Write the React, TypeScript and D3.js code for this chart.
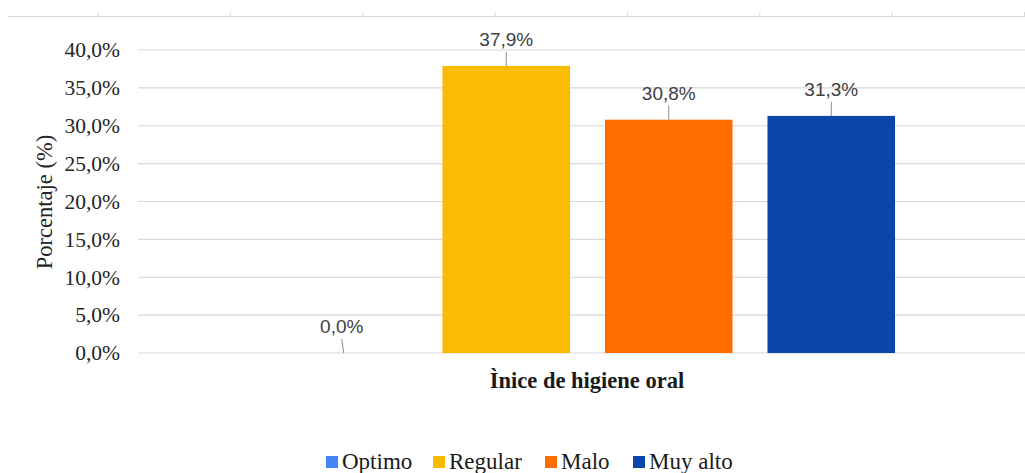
import { useMemo } from "react";
import * as d3 from "d3";

// chart data
const categories = ["Optimo", "Regular", "Malo", "Muy alto"];
const values = [0.0, 37.9, 30.8, 31.3];
const colors = ["#4285f4", "#f9bc02", "#ff6d01", "#0b47ab"];
const yTicks = [0, 5, 10, 15, 20, 25, 30, 35, 40];
const topTicks = [0, 1, 2, 3, 4, 5, 6, 7];

const W = 1025;
const H = 473;
const fmt = (v: number) => v.toFixed(1).replace(".", ",") + "%";
const serif = "'Liberation Serif', 'Times New Roman', serif";
const sans = "'Liberation Sans', Arial, sans-serif";

export default function App() {
  const y = useMemo(() => d3.scaleLinear().domain([0, 40]).range([353, 50]), []);
  const x = useMemo(
    () =>
      d3.scaleBand<string>()
        .domain(categories)
        .range([262.5, 912.5])
        .paddingInner(0.215)
        .paddingOuter(0.1075),
    []
  );
  const top = d3.scaleLinear().domain([0, 7]).range([98, 1024.5]);

  // legend layout (x start of each item)
  const legendX = [326, 433, 545, 633];

  return (
    <svg
      width={W}
      height={H}
      style={{ position: "absolute", left: 0, top: 0, background: "#fff" }}
    >
      {/* cropped top axis of previous chart */}
      <line x1={8} x2={W} y1={16.5} y2={16.5} stroke="#d9d9d9" strokeWidth={1.2} />
      {topTicks.map((t) => (
        <line key={t} x1={top(t)} x2={top(t)} y1={12} y2={16} stroke="#d9d9d9" />
      ))}

      {/* gridlines + y labels */}
      {yTicks.map((t) => (
        <g key={t}>
          <line x1={138} x2={W} y1={y(t)} y2={y(t)} stroke="#d9d9d9" strokeWidth={1.2} />
          <text
            x={120}
            y={y(t)}
            dy="0.34em"
            textAnchor="end"
            fontFamily={serif}
            fontSize={21.5}
            fill="#262626"
          >
            {fmt(t)}
          </text>
        </g>
      ))}

      {/* bars */}
      {categories.map((c, i) => (
        <rect
          key={c}
          x={x(c)}
          y={y(values[i])}
          width={x.bandwidth()}
          height={y(0) - y(values[i])}
          fill={colors[i]}
        />
      ))}

      {/* data labels with leader lines */}
      {categories.map((c, i) => {
        const cx = (x(c) as number) + x.bandwidth() / 2;
        const barTop = y(values[i]);
        const base = barTop - 20;
        const lx = i === 0 ? cx - 2 : cx;
        return (
          <g key={c}>
            {barTop - (base + 5) > 6 && (
              <line
                x1={lx}
                x2={cx}
                y1={base + 6}
                y2={barTop}
                stroke="#8c8c8c"
                strokeWidth={1}
              />
            )}
            <text
              x={lx}
              y={base}
              textAnchor="middle"
              fontFamily={sans}
              fontSize={19}
              fill="#404040"
            >
              {fmt(values[i])}
            </text>
          </g>
        );
      })}

      {/* axis titles */}
      <text
        transform="translate(52,202) rotate(-90)"
        textAnchor="middle"
        fontFamily={serif}
        fontSize={22.5}
        fill="#262626"
      >
        Porcentaje (%)
      </text>
      <text
        x={587}
        y={388}
        textAnchor="middle"
        fontFamily={serif}
        fontSize={22.5}
        fontWeight="bold"
        fill="#1a1a1a"
      >
        Ìnice de higiene oral
      </text>

      {/* legend */}
      {categories.map((c, i) => (
        <g key={c} transform={`translate(${legendX[i]},0)`}>
          <rect x={0} y={456} width={12} height={12} fill={colors[i]} />
          <text x={16} y={469} fontFamily={serif} fontSize={23} fill="#1a1a1a">
            {c}
          </text>
        </g>
      ))}
    </svg>
  );
}
